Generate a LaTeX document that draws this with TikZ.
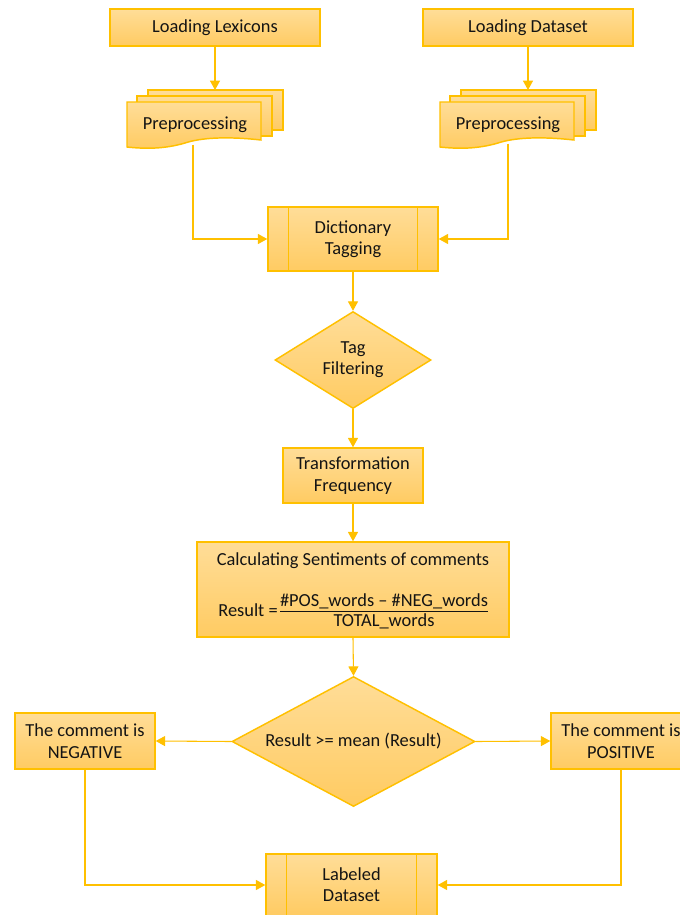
\documentclass[tikz,border=0pt]{standalone}
\usepackage{fontspec}
\setmainfont{Carlito}
\usetikzlibrary{arrows.meta,shapes.geometric,calc}
\definecolor{gold}{HTML}{FFC000}
\definecolor{ftop}{HTML}{FFDD98}
\definecolor{fbot}{HTML}{FFCB62}
\definecolor{txt}{HTML}{141414}
\begin{document}
\begin{tikzpicture}[x=0.75pt,y=-0.75pt,
  shp/.style={draw=gold,line width=1.1pt,top color=ftop,bottom color=fbot,text=txt,font=\fontsize{13.8}{16}\selectfont,align=center,inner sep=0pt},
  box/.style={shp,rectangle},
  dia/.style={shp,diamond},
  conn/.style={draw=gold,line width=0.8pt,-{Triangle[length=7pt,width=7.5pt]}},
  lbl/.style={text=txt,font=\fontsize{13.8}{16}\selectfont,align=center,inner sep=0pt}]
\clip (0,0) rectangle (680,915);
\fill[white] (0,0) rectangle (680,915);

% top boxes
\node[box,minimum width=157.5pt,minimum height=27.75pt] (lex) at (215,27.5) {Loading Lexicons};
\node[box,minimum width=157.5pt,minimum height=27.75pt] (dat) at (528,27.5) {Loading Dataset};

% multi-document shapes
\foreach \dx in {0,313}{
  \begin{scope}[xshift=\dx*0.75pt]
    \path[shp] (148,90) rectangle (283,130);
    \path[shp] (137,96) rectangle (272,136);
    \path[shp] (127,102) -- (261,102) -- (261,140)
      .. controls (225,136) and (200,138) .. (185,143)
      .. controls (165,149) and (145,149) .. (127,147) -- cycle;
  \end{scope}
}
\node[lbl] (ppL) at (195,125) {Preprocessing};
\node[lbl] (ppR) at (508,125) {Preprocessing};
\coordinate (ppLtop) at (215,90);
\coordinate (ppRtop) at (528,90);
\coordinate (ppLbot) at (193,144.5);
\coordinate (ppRbot) at (508,143.5);

% dictionary tagging
\node[box,minimum width=127.5pt,minimum height=48pt] (dict) at (353,239) {Dictionary\\Tagging};
\draw[gold,line width=0.8pt] ([xshift=15.75pt]dict.north west) -- ([xshift=15.75pt]dict.south west);
\draw[gold,line width=0.8pt] ([xshift=-15.75pt]dict.north east) -- ([xshift=-15.75pt]dict.south east);

\node[dia,minimum width=117pt,minimum height=72.75pt,aspect=1.6] (tag) at (353,360) {Tag\\Filtering};
\node[box,minimum width=105pt,minimum height=41.25pt] (trans) at (353,475.5) {Transformation\\Frequency};

\node[box,minimum width=234pt,minimum height=71.25pt] (calc) at (353,589.5) {};
\node[lbl] (calct) at (353,561) {Calculating Sentiments of comments};
\node[lbl,anchor=east] (resl) at (278,610) {Result =};
\node[lbl] (num) at (384,601) {\#POS\_words – \#NEG\_words};
\node[lbl] (den) at (384,621) {TOTAL\_words};
\draw[txt,line width=0.8pt] (280,611.5) -- (488,611.5);

\node[dia,minimum width=182.25pt,minimum height=97.5pt,aspect=1.87] (res) at (353.5,741.5) {Result >= mean (Result)};

\node[box,minimum width=105pt,minimum height=42pt] (neg) at (85,741) {The comment is\\NEGATIVE};
\node[box,minimum width=105pt,minimum height=42pt] (pos) at (621,741) {The comment is\\POSITIVE};

\node[box,minimum width=128.25pt,minimum height=46.5pt] (lab) at (351.5,885) {Labeled\\Dataset};
\draw[gold,line width=0.8pt] ([xshift=15.75pt]lab.north west) -- ([xshift=15.75pt]lab.south west);
\draw[gold,line width=0.8pt] ([xshift=-15.75pt]lab.north east) -- ([xshift=-15.75pt]lab.south east);

% connectors
\draw[conn] (lex.south) -- (ppLtop);
\draw[conn] (dat.south) -- (ppRtop);
\draw[conn] (ppLbot) |- (dict.west);
\draw[conn] (ppRbot) |- (dict.east);
\draw[conn] (dict.south) -- (tag.north);
\draw[conn] (tag.south) -- (trans.north);
\draw[conn] (trans.south) -- (calc.north);
\draw[conn] (calc.south) -- (res.north);
\draw[conn] (res.west) -- (neg.east);
\draw[conn] (res.east) -- (pos.west);
\draw[conn] (neg.south) |- (lab.west);
\draw[conn] (pos.south) |- (lab.east);
\end{tikzpicture}
\end{document}
